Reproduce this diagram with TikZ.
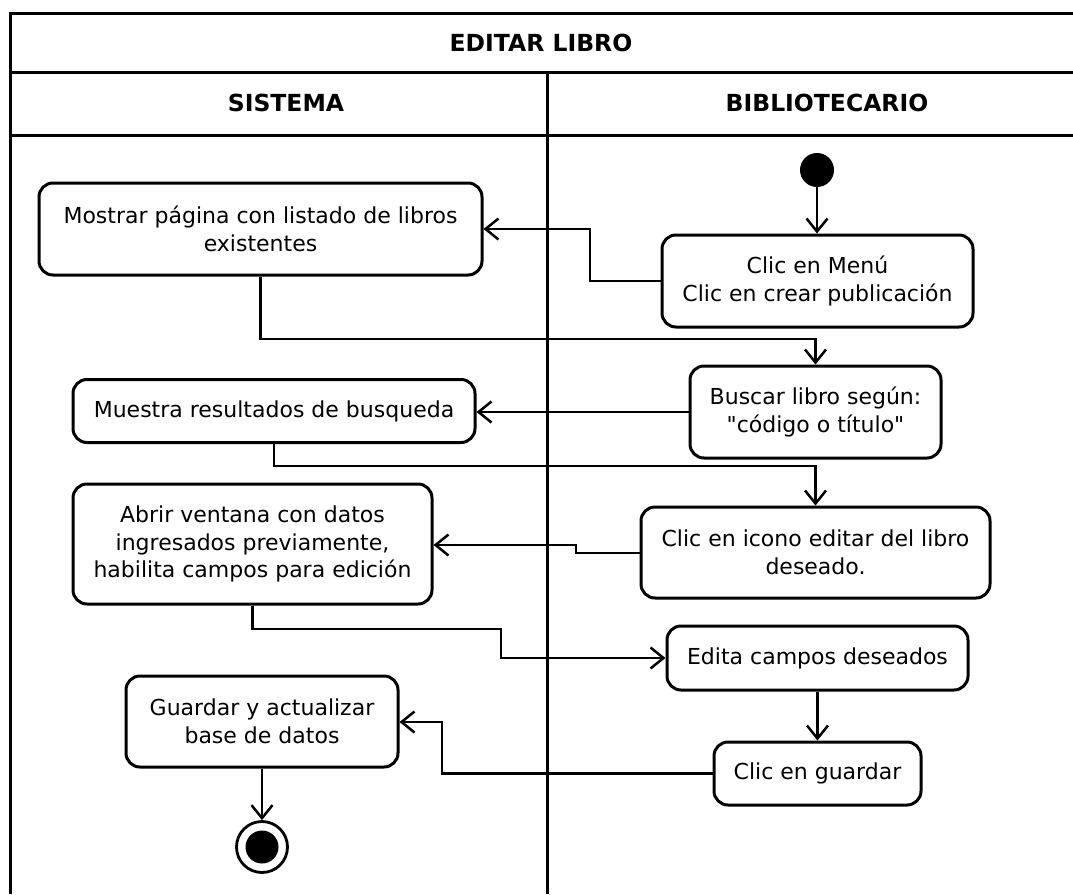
\documentclass[tikz,border=0pt]{standalone}
\usepackage{fontspec}
\setmainfont{DejaVu Sans}[Ligatures=TeXOff]
\usetikzlibrary{arrows.meta}
\begin{document}
\begin{tikzpicture}[x=1pt,y=-1pt,
  frame/.style={line width=3pt},
  act/.style={draw, line width=3pt, rounded corners=14pt, align=center, inner sep=0pt,
    font=\fontsize{22}{27.5}\selectfont},
  hdr/.style={font=\bfseries\fontsize{23.5}{28}\selectfont},
  flow/.style={line width=2.5pt, -{Straight Barb[length=13pt,width=21pt,line width=2.5pt]}},
]
\useasboundingbox (0,0) rectangle (1073,894);
% frame
\draw[frame] (1073,13) -- (10,13) -- (10,894);
\draw[frame] (10,72) -- (1073,72);
\draw[frame] (10,135) -- (1073,135);
\draw[frame] (547,72) -- (547,894);
\node[hdr] (title) at (541,43) {EDITAR LIBRO};
\node[hdr] (sis) at (286,103) {SISTEMA};
\node[hdr] (bib) at (827,103) {BIBLIOTECARIO};
% nodes
\node[circle, fill=black, minimum size=34pt, inner sep=0pt] (start) at (817,170) {};
\node[act, minimum width=311pt, minimum height=92pt] (b1) at (817.5,281) {Clic en Menú\\Clic en crear publicación};
\node[act, minimum width=443pt, minimum height=92pt] (a1) at (260.5,229) {Mostrar página con listado de libros\\existentes};
\node[act, minimum width=251pt, minimum height=92pt] (b2) at (815.5,412) {Buscar libro según:\\"código o título"};
\node[act, minimum width=402pt, minimum height=63pt] (a2) at (274,411) {Muestra resultados de busqueda};
\node[act, minimum width=349pt, minimum height=91pt] (b3) at (815.5,552.5) {Clic en icono editar del libro\\deseado.};
\node[act, minimum width=359pt, minimum height=120pt] (a3) at (252.5,544) {Abrir ventana con datos\\ingresados previamente,\\habilita campos para edición};
\node[act, minimum width=301pt, minimum height=64pt] (b4) at (817.5,658) {Edita campos deseados};
\node[act, minimum width=207pt, minimum height=63pt] (b5) at (817.5,773.5) {Clic en guardar};
\node[act, minimum width=272pt, minimum height=91pt] (a4) at (262,721.5) {Guardar y actualizar\\base de datos};
\node[circle, draw, line width=2.8pt, minimum size=51pt, inner sep=0pt] (end) at (262,847) {};
\node[circle, fill=black, minimum size=33pt, inner sep=0pt] (endin) at (262,847) {};
% bend points
\coordinate (k1) at (590,281);
\coordinate (k2) at (590,229);
\coordinate (k3) at (260.5,339);
\coordinate (k4) at (274,466);
\coordinate (k5) at (576,553);
\coordinate (k6) at (576,545);
\coordinate (k7) at (252.5,629);
\coordinate (k8) at (501,629);
\coordinate (k9) at (442,773.5);
\coordinate (k10) at (442,722);
% connectors
\draw[flow] (start.south) -- (start.south |- b1.north);
\draw[flow] (b1.west) -- (k1) -- (k2) -- (a1.east);
\draw[flow] (a1.south) -- (k3) -| (b2.north);
\draw[flow] (b2.west) -- (b2.west -| a2.east);
\draw[flow] (a2.south) -- (k4) -| (b3.north);
\draw[flow] (b3.west |- k5) -- (k5) -- (k6) -- (k6 -| a3.east);
\draw[flow] (a3.south) -- (k7) -- (k8) |- (b4.west);
\draw[flow] (b4.south) -- (b5.north);
\draw[flow] (b5.west) -- (k9) -- (k10) -- (k10 -| a4.east);
\draw[flow] (a4.south) -- (end.north);
\end{tikzpicture}
\end{document}
